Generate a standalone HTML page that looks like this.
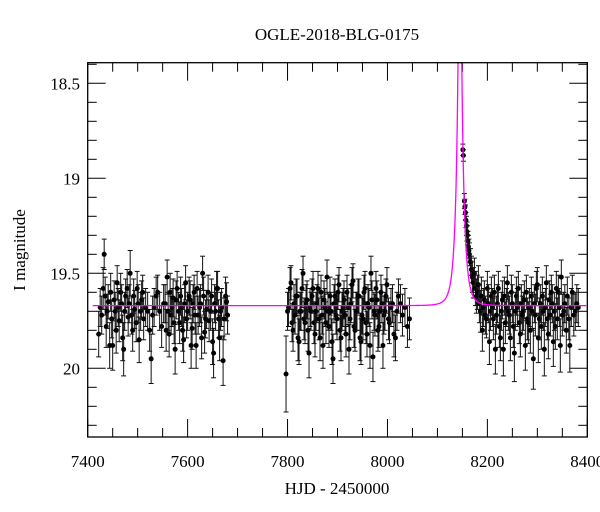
<!DOCTYPE html>
<html><head><meta charset="utf-8">
<style>
body{margin:0;background:#fff;}
svg{display:block;font-family:"Liberation Serif",serif;}
</style></head>
<body>
<svg id="chart" width="600" height="512" viewBox="0 0 600 512">
<text x="337" y="40" text-anchor="middle" font-size="17">OGLE-2018-BLG-0175</text>
<text x="337" y="494" text-anchor="middle" font-size="17">HJD - 2450000</text>
<text transform="translate(25,250) rotate(-90)" text-anchor="middle" font-size="17">I magnitude</text>
<g id="ticks"></g>
<g id="data"></g>
<path id="model" fill="none" stroke="#ff00ff" stroke-width="1.3"/>
<rect x="87.7" y="62.7" width="499.6" height="374.3" fill="none" stroke="#000" stroke-width="1.3"/>
</svg>
<script>
const xTicks=[7400,7600,7800,8000,8200,8400];
const yTicks=[18.5,19,19.5,20];
const yTickLabels=["18.5","19","19.5","20"];
const modelParams=[8145,0.01,12,1.0,19.67]; // t0,u0,tE,fs,baseline
const times=[7422,7425,7428,7431,7433,7435,7437,7439,7441,7444,7446,7448,7450,7453,7455,7457,7459,7461,7463,7466,7468,7470,7472,7474,7476,7479,7481,7483,7485,7488,7490,7492,7494,7497,7499,7501,7503,7506,7508,7510,7512,7516,7520,7524,7527,7530,7533,7537,7540,7544,7548,7552,7555,7557,7559,7561,7563,7565,7567,7569,7571,7573,7575,7577,7579,7582,7584,7586,7588,7590,7592,7594,7596,7598,7600,7603,7605,7607,7609,7611,7613,7615,7617,7619,7621,7624,7626,7628,7630,7632,7634,7636,7638,7641,7643,7646,7648,7650,7652,7654,7656,7658,7660,7662,7664,7666,7668,7671,7673,7676,7678,7680,
7797,7800,7802,7805,7807,7809,7811,7813,7815,7817,7819,7821,7823,7825,7827,7829,7831,7833,7835,7837,7839,7841,7843,7845,7847,7849,7851,7853,7855,7857,7859,7861,7863,7865,7867,7869,7871,7873,7875,7877,7879,7881,7883,7885,7887,7889,7891,7893,7895,7897,7899,7901,7903,7905,7907,7909,7911,7913,7915,7917,7919,7921,7923,7925,7927,7929,7931,7933,7935,7937,7939,7941,7943,7945,7947,7949,7951,7953,7955,7957,7959,7961,7963,7965,7967,7969,7971,7973,7975,7977,7979,7981,7983,7985,7987,7989,7991,7993,7995,7997,7999,8002,8004,8007,8010,8013,8016,8019,8022,8026,8030,8035,8040,8044,
8151,8152,8154,8155,8156,8157,8158,8159,8160,8161,8162,8163,8164,8166,8168,8170,8172,8174,8176,8178,8180,8182,8184,8186,8188,8190,8192,8194,8196,8198,8200,8202,8204,8206,8208,8210,8212,8214,8216,8218,8220,8222,8224,8226,8228,8230,8232,8234,8236,8238,8240,8242,8244,8246,8248,8250,8252,8254,8256,8258,8260,8262,8264,8266,8268,8270,8272,8274,8276,8278,8280,8282,8284,8286,8288,8290,8292,8294,8296,8298,8300,8302,8304,8306,8308,8310,8312,8314,8316,8318,8320,8322,8324,8326,8328,8330,8332,8334,8336,8338,8340,8342,8344,8346,8348,8350,8353,8355,8358,8360,8363,8365,8368,8370,8373,8376,8379,8382,8386,8390,8393,8396];
const mags=[19.82,19.68,19.72,19.58,19.40,19.62,19.78,19.70,19.65,19.88,19.60,19.74,19.88,19.64,19.70,19.80,19.55,19.68,19.75,19.60,19.66,19.84,19.90,19.70,19.62,19.58,19.73,19.66,19.50,19.72,19.80,19.62,19.69,19.76,19.58,19.66,19.85,19.70,19.64,19.60,19.74,19.68,19.70,19.80,19.95,19.72,19.68,19.62,19.60,19.70,19.78,19.66,19.66,19.80,19.52,19.70,19.82,19.60,19.72,19.68,19.63,19.76,19.90,19.64,19.58,19.70,19.76,19.62,19.68,19.80,19.85,19.66,19.55,19.74,19.70,19.62,19.64,19.88,19.79,19.66,19.60,19.72,19.88,19.58,19.72,19.68,19.66,19.84,19.50,19.62,19.81,19.74,19.69,19.60,19.75,19.70,19.62,19.86,19.92,19.66,19.70,19.58,19.58,19.74,19.84,19.70,19.68,19.96,19.74,19.62,19.65,19.72,
20.03,19.70,19.68,19.58,19.55,19.76,19.80,19.66,19.72,19.62,19.62,19.84,19.86,19.70,19.70,19.58,19.50,19.74,19.76,19.66,19.64,19.80,19.92,19.68,19.70,19.62,19.58,19.76,19.82,19.70,19.66,19.58,19.74,19.84,19.60,19.72,19.88,19.64,19.68,19.76,19.52,19.70,19.78,19.62,19.70,19.86,19.95,19.66,19.62,19.72,19.74,19.60,19.56,19.80,19.84,19.70,19.68,19.64,19.72,19.82,19.60,19.68,19.90,19.74,19.66,19.56,19.54,19.78,19.80,19.70,19.70,19.62,19.62,19.84,19.86,19.72,19.74,19.60,19.58,19.76,19.82,19.66,19.68,19.88,19.50,19.64,19.94,19.70,19.72,19.58,19.64,19.80,19.78,19.70,19.60,19.66,19.88,19.72,19.70,19.62,19.56,19.74,19.76,19.68,19.66,19.82,19.84,19.70,19.62,19.66,19.72,19.68,19.78,19.74,
18.85,18.88,19.12,19.15,19.18,19.22,19.25,19.28,19.30,19.33,19.36,19.38,19.40,19.44,19.48,19.52,19.55,19.50,19.58,19.62,19.60,19.56,19.66,19.70,19.62,19.80,19.68,19.64,19.72,19.74,19.58,19.66,19.86,19.70,19.62,19.68,19.74,19.60,19.90,19.72,19.66,19.58,19.78,19.84,19.70,19.64,19.90,19.62,19.76,19.68,19.55,19.70,19.72,19.84,19.60,19.66,19.78,19.92,19.70,19.62,19.68,19.58,19.76,19.82,19.66,19.72,19.70,19.64,19.88,19.60,19.74,19.76,19.68,19.80,19.62,19.70,19.95,19.66,19.72,19.58,19.56,19.84,19.74,19.66,19.78,19.62,19.70,19.90,19.68,19.55,19.74,19.82,19.64,19.72,19.60,19.66,19.86,19.70,19.78,19.58,19.74,19.60,19.68,19.88,19.52,19.72,19.70,19.66,19.80,19.62,19.74,19.88,19.68,19.60,19.72,19.70,19.66,19.68];
const errs=[0.12,0.10,0.10,0.11,0.08,0.10,0.11,0.09,0.09,0.12,0.10,0.10,0.13,0.10,0.10,0.12,0.09,0.10,0.11,0.10,0.10,0.12,0.14,0.10,0.09,0.10,0.10,0.10,0.12,0.10,0.11,0.09,0.10,0.10,0.09,0.10,0.12,0.10,0.10,0.09,0.11,0.10,0.10,0.11,0.13,0.10,0.10,0.10,0.09,0.10,0.11,0.10,0.10,0.11,0.09,0.10,0.12,0.10,0.10,0.10,0.10,0.11,0.13,0.10,0.09,0.10,0.11,0.10,0.10,0.11,0.12,0.10,0.09,0.10,0.10,0.10,0.10,0.12,0.11,0.10,0.09,0.10,0.12,0.09,0.10,0.10,0.10,0.11,0.09,0.10,0.11,0.10,0.10,0.09,0.11,0.10,0.09,0.12,0.13,0.10,0.10,0.09,0.09,0.10,0.12,0.10,0.10,0.13,0.11,0.10,0.10,0.10,
0.20,0.10,0.10,0.11,0.09,0.10,0.11,0.10,0.10,0.09,0.09,0.12,0.12,0.10,0.10,0.10,0.09,0.11,0.11,0.10,0.10,0.11,0.13,0.10,0.10,0.09,0.09,0.11,0.12,0.10,0.10,0.09,0.11,0.12,0.09,0.10,0.12,0.10,0.10,0.11,0.09,0.10,0.11,0.10,0.10,0.12,0.13,0.10,0.09,0.10,0.11,0.09,0.09,0.11,0.12,0.10,0.10,0.10,0.10,0.12,0.09,0.10,0.13,0.11,0.10,0.09,0.09,0.11,0.11,0.10,0.10,0.09,0.09,0.12,0.12,0.10,0.11,0.09,0.09,0.11,0.12,0.10,0.10,0.12,0.09,0.10,0.13,0.10,0.11,0.09,0.10,0.11,0.11,0.10,0.09,0.10,0.12,0.10,0.10,0.09,0.09,0.11,0.11,0.10,0.10,0.12,0.12,0.10,0.09,0.10,0.11,0.10,0.11,0.11,
0.03,0.03,0.04,0.04,0.04,0.04,0.05,0.05,0.05,0.05,0.06,0.06,0.06,0.07,0.07,0.08,0.08,0.08,0.09,0.09,0.09,0.10,0.10,0.11,0.10,0.11,0.10,0.10,0.10,0.10,0.09,0.10,0.12,0.10,0.10,0.10,0.11,0.09,0.13,0.10,0.10,0.09,0.11,0.12,0.10,0.10,0.14,0.10,0.11,0.10,0.09,0.10,0.10,0.12,0.09,0.10,0.11,0.15,0.10,0.10,0.10,0.09,0.11,0.12,0.10,0.10,0.10,0.10,0.13,0.09,0.11,0.11,0.10,0.12,0.10,0.10,0.16,0.10,0.11,0.09,0.09,0.13,0.11,0.10,0.12,0.10,0.10,0.14,0.10,0.09,0.11,0.13,0.10,0.11,0.09,0.10,0.13,0.10,0.12,0.09,0.11,0.09,0.10,0.14,0.09,0.11,0.10,0.10,0.12,0.10,0.11,0.14,0.10,0.09,0.11,0.10,0.10,0.10];
const NS="http://www.w3.org/2000/svg";
const X0=87.7,X1=587.3,Y0=62.7,Y1=437;
function sx(t){return X0+(t-7400)/1000*(X1-X0);}
function sy(m){return 368.3+(m-20)*190;}
function mk(tag,attrs,parent){const e=document.createElementNS(NS,tag);for(const k in attrs)e.setAttribute(k,attrs[k]);parent.appendChild(e);return e;}
const tg=document.getElementById('ticks');
for(let t=7400;t<=8400;t+=50){
  const major=xTicks.includes(t);const L=major?18:9;const x=sx(t);
  const a=mk('line',{x1:x,x2:x,y1:Y1,y2:Y1-L,stroke:'#000'},tg);
  
  
  const b=mk('line',{x1:x,x2:x,y1:Y0,y2:Y0+L,stroke:'#000'},tg);
  
  
}
xTicks.forEach(t=>{
  const tx=mk('text',{x:sx(t),y:467,'text-anchor':'middle','font-size':17},tg);tx.textContent=t;
  
  
});
for(let i=0;i<=20;i++){
  const m=18.4+i*0.1;const y=sy(m);if(y<Y0||y>Y1)continue;
  const major=Math.abs(m*2-Math.round(m*2))<1e-6;const L=major?18:9;
  const a=mk('line',{x1:X0,x2:X0+L,y1:y,y2:y,stroke:'#000'},tg);
  
  
  const b=mk('line',{x1:X1,x2:X1-L,y1:y,y2:y,stroke:'#000'},tg);
  
  
}
yTicks.forEach((m,i)=>{
  const tx=mk('text',{x:80,y:sy(m)+6,'text-anchor':'end','font-size':17},tg);tx.textContent=yTickLabels[i];
  
  
});
const dg=document.getElementById('data');
const n=Math.min(times.length,mags.length,errs.length);
for(let i=0;i<n;i++){
  const x=sx(times[i]),y=sy(mags[i]),e=errs[i]*190;
  const yt=Math.max(Y0,y-e),yb=Math.min(Y1,y+e);
  const g=mk('g',{},dg);
  
  
  mk('line',{x1:x,x2:x,y1:yt,y2:yb,stroke:'#111','stroke-width':1},g);
  mk('line',{x1:x-2.5,x2:x+2.5,y1:yt,y2:yt,stroke:'#111','stroke-width':1},g);
  mk('line',{x1:x-2.5,x2:x+2.5,y1:yb,y2:yb,stroke:'#111','stroke-width':1},g);
  mk('circle',{cx:x,cy:y,r:2.5,fill:'#000'},g);
}
const [t0,u0,tE,fs,base]=modelParams;
let d='';
for(let t=7410;t<=8398;t+=0.2){
  const tau=(t-t0)/tE,u=Math.sqrt(u0*u0+tau*tau);
  const A=(u*u+2)/(u*Math.sqrt(u*u+4));
  const m=base-2.5*Math.log10(fs*A+1-fs);
  let y=Math.max(Y0,sy(m));
  d+=(d?'L':'M')+sx(t).toFixed(2)+','+y.toFixed(2);
}
document.getElementById('model').setAttribute('d',d);
</script>
</body></html>
